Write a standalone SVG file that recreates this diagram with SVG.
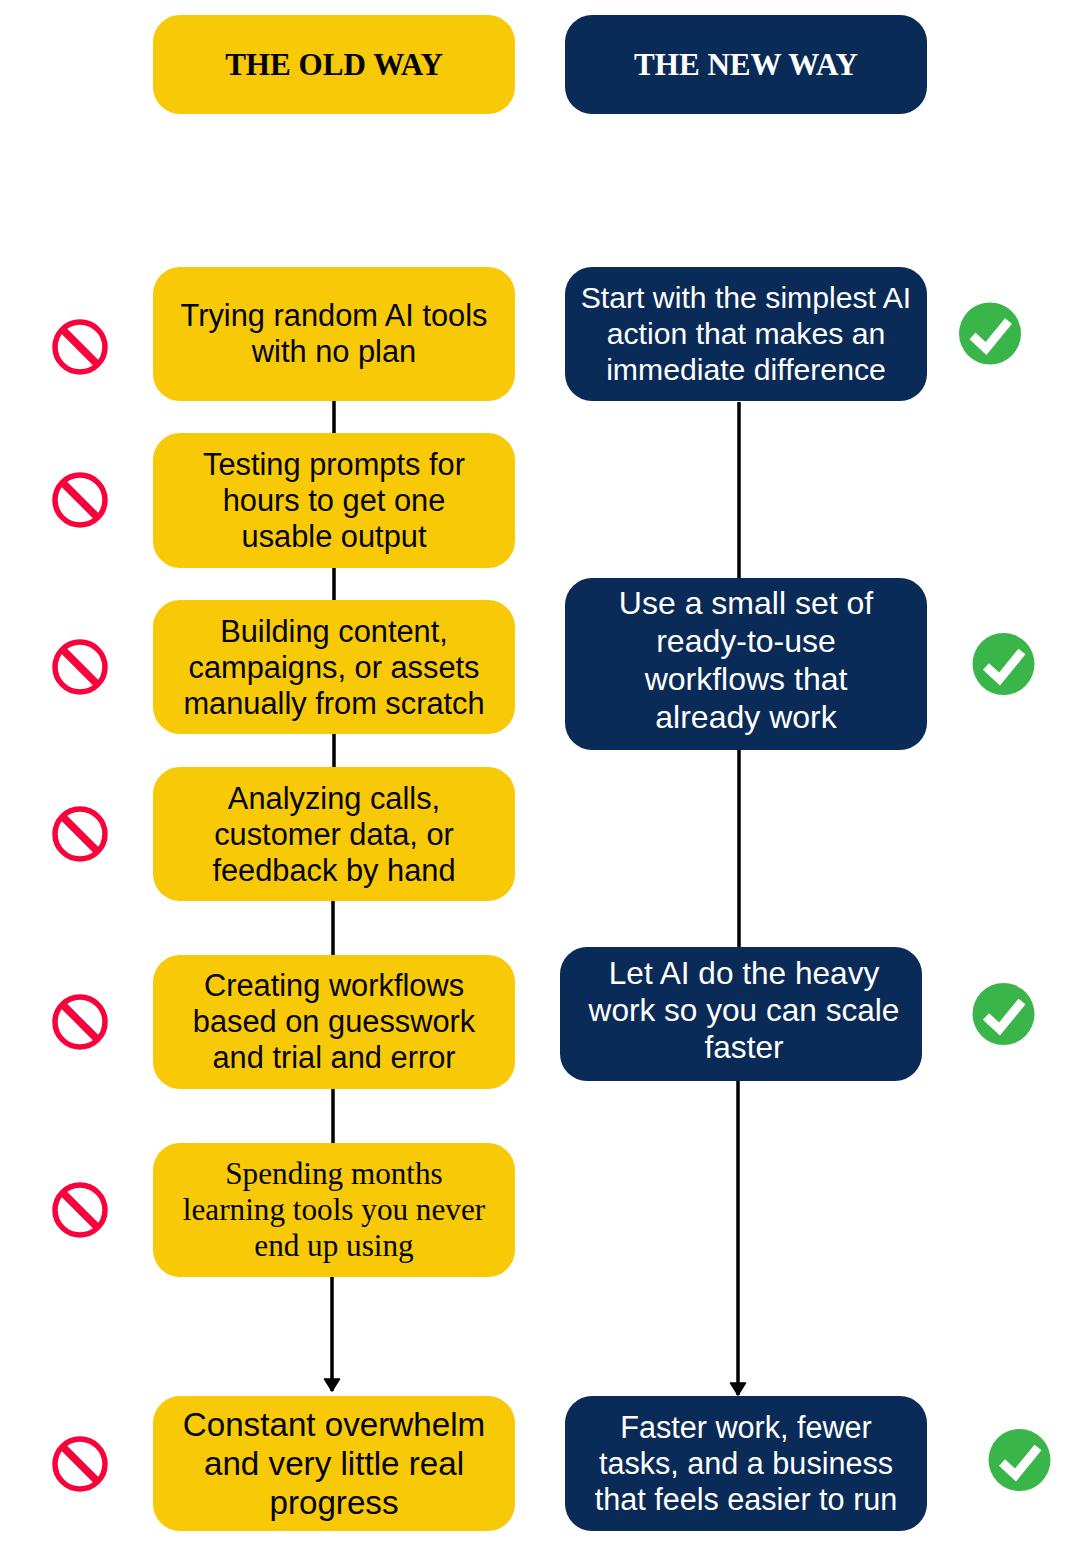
<svg xmlns="http://www.w3.org/2000/svg" width="1080" height="1554" viewBox="0 0 1080 1554">
<style>
.y{fill:#f7c906}.b{fill:#0a2b57}
text{font-family:"Liberation Sans",Arial,sans-serif;text-anchor:middle;font-size:30.8px}
.k{fill:#050505}.w{fill:#fff}
.h{font-family:"Liberation Serif","Times New Roman",serif;font-weight:700;font-size:31.1px}
.s{font-family:"Liberation Serif","Times New Roman",serif;font-size:31.2px}
.c{fill:none;stroke:#000;stroke-width:3.5}
.bn{fill:none;stroke:#f9023c;stroke-width:5.5}
.bs{stroke:#f9023c;stroke-width:7.5;fill:none}
.gc{fill:#3ab54a}.gm{fill:none;stroke:#fff;stroke-width:9}
</style>
<defs>
<marker id="a" markerUnits="userSpaceOnUse" markerWidth="16" markerHeight="20" refX="13" refY="10" orient="auto"><path d="M1 2.500L13 10L1 17.500Z" fill="#000" stroke="#000" stroke-width="1.500" stroke-linejoin="round"/></marker>
<g id="ban"><circle class="bn" cx="0" cy="0" r="25"/><path class="bs" d="M-17 -17L17 17"/></g>
<g id="ok"><circle class="gc" cx="0" cy="0" r="31"/><path class="gm" d="M-17.500 2.500L-4 15L18.500 -12.500"/></g>
</defs>
<g id="connectors">
<path class="c" d="M334 401V433M334 568V600M334 734V767M333 901V955M333 1089V1143"/>
<path class="c" d="M332 1277V1391" marker-end="url(#a)"/>
<path class="c" d="M739 402V578M739 750V947"/>
<path class="c" d="M738 1081V1395" marker-end="url(#a)"/>
</g>
<g id="old-head"><rect class="y" x="153" y="15" width="362" height="99" rx="27"/><text class="k h" x="334" y="75">THE OLD WAY</text></g>
<g id="new-head"><rect class="b" x="565" y="15" width="362" height="99" rx="27"/><text class="w h" x="746" y="75">THE NEW WAY</text></g>
<g id="old-1"><rect class="y" x="153" y="267" width="362" height="134" rx="27"/><text class="k" x="334" y="326">Trying random AI tools</text><text class="k" x="334" y="362">with no plan</text></g>
<g id="old-2"><rect class="y" x="153" y="433" width="362" height="135" rx="27"/><text class="k" x="334" y="475">Testing prompts for</text><text class="k" x="334" y="511">hours to get one</text><text class="k" x="334" y="547">usable output</text></g>
<g id="old-3"><rect class="y" x="153" y="600" width="362" height="134" rx="27"/><text class="k" x="334" y="642">Building content,</text><text class="k" x="334" y="678">campaigns, or assets</text><text class="k" x="334" y="714">manually from scratch</text></g>
<g id="old-4"><rect class="y" x="153" y="767" width="362" height="134" rx="27"/><text class="k" x="334" y="809">Analyzing calls,</text><text class="k" x="334" y="845">customer data, or</text><text class="k" x="334" y="881">feedback by hand</text></g>
<g id="old-5"><rect class="y" x="153" y="955" width="362" height="134" rx="27"/><text class="k" x="334" y="996">Creating workflows</text><text class="k" x="334" y="1032">based on guesswork</text><text class="k" x="334" y="1068">and trial and error</text></g>
<g id="old-6"><rect class="y" x="153" y="1143" width="362" height="134" rx="27"/><text class="k s" x="334" y="1184">Spending months</text><text class="k s" x="334" y="1220">learning tools you never</text><text class="k s" x="334" y="1256">end up using</text></g>
<g id="old-7"><rect class="y" x="153" y="1396" width="362" height="135" rx="27"/><text class="k" x="334" y="1436" style="font-size:33.200px">Constant overwhelm</text><text class="k" x="334" y="1475" style="font-size:33.200px">and very little real</text><text class="k" x="334" y="1514" style="font-size:33.200px">progress</text></g>
<g id="new-1"><rect class="b" x="565" y="267" width="362" height="134" rx="27"/><text class="w" x="746" y="308" style="font-size:30.200px">Start with the simplest AI</text><text class="w" x="746" y="344" style="font-size:30.200px">action that makes an</text><text class="w" x="746" y="380" style="font-size:30.200px">immediate difference</text></g>
<g id="new-2"><rect class="b" x="565" y="578" width="362" height="172" rx="27"/><text class="w" x="746" y="614" style="font-size:32px">Use a small set of</text><text class="w" x="746" y="652" style="font-size:32px">ready-to-use</text><text class="w" x="746" y="690" style="font-size:32px">workflows that</text><text class="w" x="746" y="728" style="font-size:32px">already work</text></g>
<g id="new-3"><rect class="b" x="560" y="947" width="362" height="134" rx="27"/><text class="w" x="744" y="984" style="font-size:31.600px">Let AI do the heavy</text><text class="w" x="744" y="1021" style="font-size:31.600px">work so you can scale</text><text class="w" x="744" y="1058" style="font-size:31.600px">faster</text></g>
<g id="new-4"><rect class="b" x="565" y="1396" width="362" height="135" rx="27"/><text class="w" x="746" y="1438" style="font-size:30.600px">Faster work, fewer</text><text class="w" x="746" y="1474" style="font-size:30.600px">tasks, and a business</text><text class="w" x="746" y="1510" style="font-size:30.600px">that feels easier to run</text></g>
<g id="ban-1"><use href="#ban" x="80" y="347"/></g>
<g id="ban-2"><use href="#ban" x="80" y="500"/></g>
<g id="ban-3"><use href="#ban" x="80" y="667"/></g>
<g id="ban-4"><use href="#ban" x="80" y="834"/></g>
<g id="ban-5"><use href="#ban" x="80" y="1022"/></g>
<g id="ban-6"><use href="#ban" x="80" y="1210"/></g>
<g id="ban-7"><use href="#ban" x="80" y="1464"/></g>
<g id="ok-1"><use href="#ok" x="990" y="333.500"/></g>
<g id="ok-2"><use href="#ok" x="1003.500" y="664"/></g>
<g id="ok-3"><use href="#ok" x="1003.500" y="1014"/></g>
<g id="ok-4"><use href="#ok" x="1019.500" y="1460"/></g>
</svg>
